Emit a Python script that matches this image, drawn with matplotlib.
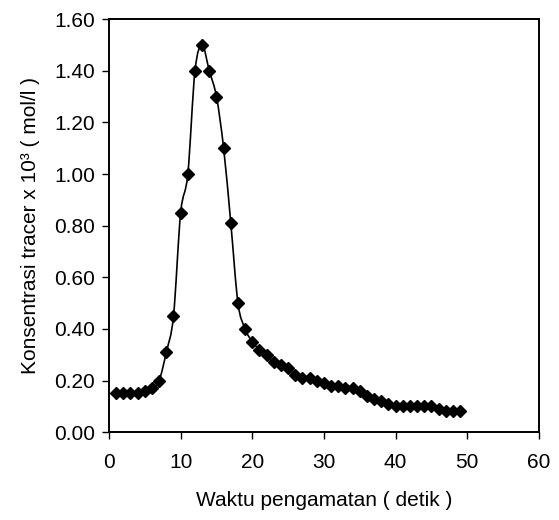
import matplotlib as mpl
mpl.use("Agg")
import matplotlib.pyplot as plt
import numpy as np
from matplotlib.path import Path
from matplotlib.patches import PathPatch

mpl.rcParams["font.family"] = ["Liberation Sans", "DejaVu Sans"]
mpl.rcParams["font.size"] = 15

# time (s) and tracer concentration (x 10^3 mol/l)
waktu = list(range(1, 50))
konsentrasi = [
    0.15, 0.15, 0.15, 0.15, 0.16, 0.17, 0.20, 0.31, 0.45, 0.85,
    1.00, 1.40, 1.50, 1.40, 1.30, 1.10, 0.81, 0.50, 0.40, 0.35,
    0.32, 0.30, 0.27, 0.26, 0.25, 0.22, 0.21, 0.21, 0.20, 0.19,
    0.18, 0.18, 0.17, 0.17, 0.16, 0.14, 0.13, 0.12, 0.11, 0.10,
    0.10, 0.10, 0.10, 0.10, 0.10, 0.09, 0.08, 0.08, 0.08,
]
x_ticks = [0, 10, 20, 30, 40, 50, 60]
y_ticks = [0.0, 0.2, 0.4, 0.6, 0.8, 1.0, 1.2, 1.4, 1.6]


def smooth_path(xs, ys):
    """Excel-like smoothed line: Catmull-Rom segments as cubic Beziers."""
    p = np.column_stack([xs, ys]).astype(float)
    n = len(p)
    verts = [p[0]]
    codes = [Path.MOVETO]
    for i in range(n - 1):
        p0 = p[i - 1] if i > 0 else p[i]
        p3 = p[i + 2] if i + 2 < n else p[i + 1]
        c1 = p[i] + (p[i + 1] - p0) / 6.0
        c2 = p[i + 1] - (p3 - p[i]) / 6.0
        verts += [c1, c2, p[i + 1]]
        codes += [Path.CURVE4] * 3
    return Path(verts, codes)


fig = plt.figure(figsize=(5.59, 5.20), dpi=100)
ax = fig.add_axes([0.195, 0.169, 0.769, 0.794])

ax.add_patch(PathPatch(smooth_path(waktu, konsentrasi), facecolor="none",
                       edgecolor="black", lw=1.2, zorder=2))
ax.plot(waktu, konsentrasi, linestyle="none", marker="D", ms=6.5,
        color="black", zorder=3)

ax.set_xlim(0, 60)
ax.set_ylim(0, 1.6)
ax.set_xticks(x_ticks)
ax.set_yticks(y_ticks)
ax.set_yticklabels([f"{v:.2f}" for v in y_ticks])
for s in ax.spines.values():
    s.set_linewidth(1.4)
ax.tick_params(direction="out", length=5, width=1, labelsize=15)
ax.tick_params(axis="x", pad=10)
ax.tick_params(axis="y", pad=5)

ax.set_xlabel("Waktu pengamatan ( detik )", labelpad=14)
ax.set_ylabel("Konsentrasi tracer x 10³ ( mol/l )", labelpad=10)

fig.savefig("out.png", dpi=100, facecolor="white")
